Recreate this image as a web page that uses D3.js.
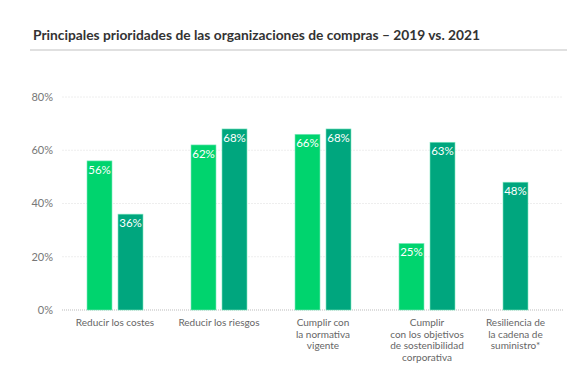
<!DOCTYPE html>
<html>
<head>
<meta charset="utf-8">
<script src="https://cdn.jsdelivr.net/npm/d3@7"></script>
<style>
  body { margin: 0; background: #fff; }
  svg text { font-family: Lato, "Noto Sans", sans-serif; }
</style>
</head>
<body>
<div id="chart"></div>
<script>
// data
var categories = ["costes", "riesgos", "normativa", "sostenibilidad", "resiliencia"];
var categoryLines = [
    ["Reducir los costes"],
    ["Reducir los riesgos"],
    ["Cumplir con", "la normativa", "vigente"],
    ["Cumplir", "con los objetivos", "de sostenibilidad", "corporativa"],
    ["Resiliencia de", "la cadena de", "suministro*"]
];
var years = ["2019", "2021"];
var values2019 = [56, 62, 66, 25, null];
var values2021 = [36, 68, 68, 63, 48];
var yTicks = [0, 20, 40, 60, 80];
var title = "Principales prioridades de las organizaciones de compras \u2013 2019 vs. 2021";

var width = 576, height = 373;
var colors = {"2019": "#00d46e", "2021": "#00a67e"};

var svg = d3.select("#chart").append("svg")
    .attr("width", width)
    .attr("height", height);

// title + rule
svg.append("text")
    .attr("x", 33)
    .attr("y", 40)
    .attr("fill", "#333")
    .attr("textLength", 447)
    .attr("lengthAdjust", "spacingAndGlyphs")
    .style("font-size", "14px")
    .style("font-weight", "700")
    .text(title);

svg.append("line")
    .attr("x1", 30).attr("x2", 567)
    .attr("y1", 50).attr("y2", 50)
    .attr("stroke", "#e0e0e0")
    .attr("stroke-width", 2);

var y = d3.scaleLinear()
    .domain([0, 80])
    .range([310, 97]);

var x = d3.scaleBand()
    .domain(categories)
    .range([87, 559])
    .paddingInner(0.4615)
    .paddingOuter(0);

var xInner = d3.scaleBand()
    .domain([0, 1])
    .range([0, x.bandwidth()])
    .paddingInner(0.1935);

// grid
var grid = svg.append("g");
grid.selectAll("line")
    .data(yTicks)
    .enter().append("line")
    .attr("x1", 62).attr("x2", 563)
    .attr("y1", d => y(d)).attr("y2", d => y(d))
    .attr("stroke", d => d === 0 ? "#bbb" : "#eee")
    .attr("stroke-width", 1)
    .attr("stroke-dasharray", d => d === 0 ? "1,1" : "2,1");

grid.selectAll("text")
    .data(yTicks)
    .enter().append("text")
    .attr("x", 53)
    .attr("y", d => y(d))
    .attr("dy", "0.35em")
    .attr("text-anchor", "end")
    .attr("fill", "#777")
    .style("font-size", "11px")
    .text(d => d + "%");

// bars (a missing 2019 value lets the 2021 bar take the first slot)
var bars = [];
var labelX = [];
categories.forEach((c, i) => {
    var slot = 0;
    [values2019[i], values2021[i]].forEach((v, j) => {
        if (v == null) return;
        bars.push({cat: c, year: years[j], value: v, slot: slot});
        slot++;
    });
    var first = x(c) + xInner(0);
    var last = x(c) + xInner(slot - 1) + xInner.bandwidth();
    labelX.push((first + last) / 2);
});

var barG = svg.append("g");
barG.selectAll("rect")
    .data(bars)
    .enter().append("rect")
    .attr("x", d => x(d.cat) + xInner(d.slot))
    .attr("y", d => y(d.value))
    .attr("width", xInner.bandwidth())
    .attr("height", d => y(0) - y(d.value))
    .attr("fill", d => colors[d.year])
    .attr("stroke", "#7fe8c0")
    .attr("stroke-width", 0.6);

barG.selectAll("text")
    .data(bars)
    .enter().append("text")
    .attr("x", d => x(d.cat) + xInner(d.slot) + xInner.bandwidth() / 2)
    .attr("y", d => y(d.value) + 13)
    .attr("text-anchor", "middle")
    .attr("fill", "#fff")
    .style("font-size", "11.5px")
    .text(d => d.value + "%");

// category labels
var catG = svg.append("g");
catG.selectAll("text")
    .data(categories)
    .enter().append("text")
    .attr("y", 326)
    .attr("text-anchor", "middle")
    .attr("fill", "#666")
    .style("font-size", "10px")
    .each(function(d, i) {
        d3.select(this).selectAll("tspan")
            .data(categoryLines[i])
            .enter().append("tspan")
            .attr("x", labelX[i])
            .attr("dy", (l, k) => k === 0 ? 0 : 11.5)
            .text(l => l);
    });
</script>
</body>
</html>
